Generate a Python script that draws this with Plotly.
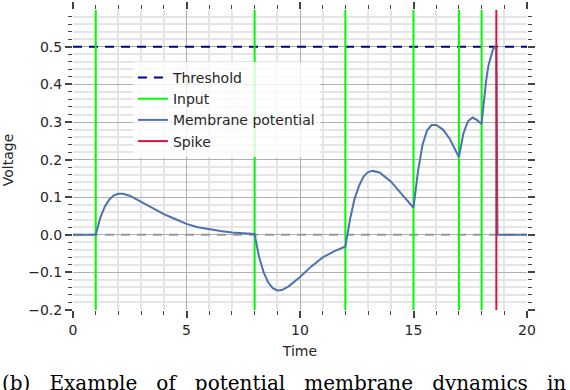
import plotly.graph_objects as go

# membrane potential
t_mem = [0.0, 1.0, 1.2, 1.4, 1.6, 1.8, 2.0, 2.2, 2.5, 3.0, 3.5, 4.0, 4.5, 5.0, 5.5, 6.0, 6.5, 7.0, 7.5, 8.0,
         8.2, 8.4, 8.6, 8.8, 9.0, 9.2, 9.5, 10.0, 10.5, 11.0, 11.5, 12.0,
         12.2, 12.4, 12.6, 12.8, 13.0, 13.2, 13.5, 14.0, 14.5, 15.0,
         15.2, 15.4, 15.6, 15.8, 16.0, 16.3, 16.6, 17.0,
         17.2, 17.4, 17.6, 17.8, 18.0,
         18.1, 18.2, 18.3, 18.4, 18.5, 18.6, 18.65, 18.7, 19.0, 20.0]
v_mem = [0.0, 0.0, 0.045, 0.075, 0.094, 0.105, 0.109, 0.109, 0.104, 0.088, 0.071, 0.055, 0.042, 0.029, 0.020, 0.014, 0.010, 0.006, 0.004, 0.002,
         -0.06, -0.10, -0.127, -0.142, -0.148, -0.147, -0.137, -0.112, -0.084, -0.060, -0.044, -0.031,
         0.04, 0.095, 0.13, 0.155, 0.167, 0.170, 0.166, 0.142, 0.107, 0.072,
         0.17, 0.24, 0.278, 0.292, 0.292, 0.280, 0.255, 0.207,
         0.27, 0.302, 0.312, 0.305, 0.295,
         0.36, 0.41, 0.45, 0.475, 0.493, 0.50, 0.50, 0.0, 0.0, 0.0]

input_times = [1, 8, 12, 15, 17, 18]
spike_times = [18.65]
threshold = 0.5
t_start, t_end = 0, 20
y_low, y_high = -0.2, 0.598

caption = '(b)\u00a0\u00a0\u00a0Example\u00a0\u00a0\u00a0of\u00a0\u00a0\u00a0potential\u00a0\u00a0\u00a0membrane\u00a0\u00a0\u00a0dynamics\u00a0\u00a0\u00a0in'


def vlines(times):
    xs, ys = [], []
    for t in times:
        xs += [t, t, None]
        ys += [y_low, y_high, None]
    return xs, ys


fig = go.Figure()

# zero reference line
fig.add_trace(go.Scatter(x=[t_start, t_end], y=[0, 0], mode='lines', showlegend=False,
                         line=dict(color='#999999', width=2, dash='9px,7px'), hoverinfo='skip'))

fig.add_trace(go.Scatter(x=[t_start, t_end], y=[threshold, threshold], mode='lines', name='Threshold',
                         line=dict(color='#00008b', width=2, dash='9px,7px')))

xi, yi = vlines(input_times)
fig.add_trace(go.Scatter(x=xi, y=yi, mode='lines', name='Input',
                         line=dict(color='#00ff00', width=2)))

fig.add_trace(go.Scatter(x=t_mem, y=v_mem, mode='lines', name='Membrane potential',
                         line=dict(color='#4c72b0', width=2)))

xs, ys = vlines(spike_times)
fig.add_trace(go.Scatter(x=xs, y=ys, mode='lines', name='Spike',
                         line=dict(color='#dc143c', width=2)))

axis_font = dict(family='DejaVu Sans', size=14, color='#262626')
fig.update_xaxes(range=[t_start, t_end], dtick=5, tickfont=axis_font, showline=False, zeroline=False,
                 automargin=False,
                 ticks='outside', ticklen=7, tickwidth=2, tickcolor='#444444', mirror='ticks',
                 showgrid=True, gridcolor='#b0b0b0', gridwidth=1,
                 minor=dict(dtick=1, ticks='outside', ticklen=4, tickwidth=1, tickcolor='#444444',
                            showgrid=True, gridcolor='#e5e5e5', gridwidth=2),
                 title=dict(text='Time', font=axis_font, standoff=9))
fig.update_yaxes(range=[y_low, y_high], dtick=0.1, tickformat='.1f', tickfont=axis_font, showline=False,
                 zeroline=False, automargin=False,
                 ticks='outside', ticklen=7, tickwidth=2, tickcolor='#444444', mirror='ticks',
                 showgrid=True, gridcolor='#b0b0b0', gridwidth=1,
                 minor=dict(dtick=0.02, ticks='outside', ticklen=4, tickwidth=1, tickcolor='#444444',
                            showgrid=True, gridcolor='#e5e5e5', gridwidth=2),
                 title=dict(text='Voltage', font=axis_font, standoff=12))

fig.add_annotation(text=caption,
                   xref='paper', yref='paper', x=-0.161, y=-0.197, xanchor='left', yanchor='top',
                   showarrow=False, font=dict(family='DejaVu Serif', size=20, color='#000000'))

fig.update_layout(
    width=570, height=390,
    margin=dict(l=73, r=43, t=10, b=80),
    plot_bgcolor='white', paper_bgcolor='white',
    legend=dict(x=0.132, y=0.827, xanchor='left', yanchor='top',
                bgcolor='rgba(255,255,255,0.8)', font=dict(family='DejaVu Sans', size=14, color='#262626'),
                tracegroupgap=0),
)

# drop the page's default body margin so the figure sits at the window corner
fig.write_html("out.html", config={'displayModeBar': False},
               post_script="document.body.style.margin='0';")
